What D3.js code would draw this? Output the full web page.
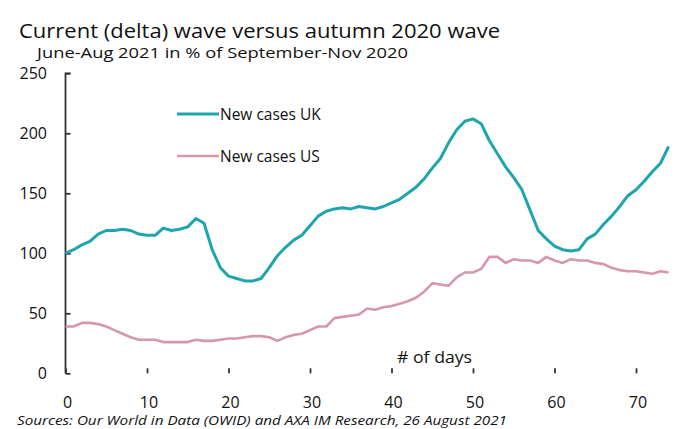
<!DOCTYPE html>
<html><head><meta charset="utf-8">
<script src="https://cdn.jsdelivr.net/npm/d3@7"></script>
<style>body{margin:0;background:#fff}svg{display:block}</style>
</head><body>
<script>
const days = d3.range(0, 75);
const ukCases = [100,103,107,110,116,119,119,120,119,116,115,115,121,119,120,122,129,125,103,88,
  81,79,77,77,79,88,98,105,111,115,123,131,135,137,138,137,139,138,137,139,
  142,145,150,155,162,171,179,192,203,210,212,208,194,183,172,163,153,136,119,112,
  106,103,102,103,112,116,124,131,139,148,153,160,168,175,189];
const usCases = [39,39,42,42,41,39,36,33,30,28,28,28,26,26,26,26,28,27,27,28,
  29,29,30,31,31,30,27,30,32,33,36,39,39,46,47,48,49,54,53,55,
  56,58,60,63,68,75,74,73,80,84,84,87,97,97,92,95,94,94,92,97,
  94,92,95,94,94,92,91,88,86,85,85,84,83,85,84];
const yTicks = [0,50,100,150,200,250];
const xTicks = [0,10,20,30,40,50,60,70];
const seriesNames = ["New cases UK","New cases US"];
const colors = ["#1ea5ae","#d697ab"];

const W = 675, H = 429;
const svg = d3.select("body").append("svg").attr("width", W).attr("height", H);
const font = "'Open Sans', 'Liberation Sans', sans-serif";

const x = d3.scaleLinear().domain([0, 74.6]).range([65.5, 673.5]);
const y = d3.scaleLinear().domain([0, 250]).range([373.3, 73.3]);

svg.append("text").attr("x", 19).attr("y", 38).attr("font-family", font).attr("font-size", 20)
  .attr("fill", "#111").attr("textLength", 481).attr("lengthAdjust", "spacingAndGlyphs")
  .text("Current (delta) wave versus autumn 2020 wave");
svg.append("text").attr("x", 37).attr("y", 58).attr("font-family", font).attr("font-size", 14.5)
  .attr("fill", "#111").attr("textLength", 371).attr("lengthAdjust", "spacingAndGlyphs")
  .text("June-Aug  2021 in % of September-Nov  2020");

// axes
const yAxis = d3.axisRight(y).tickValues(yTicks).tickSize(5).tickFormat("");
const gy = svg.append("g").attr("transform", `translate(${x(0)},0)`).call(yAxis);
const xAxis = d3.axisTop(x).tickValues(xTicks).tickSize(5).tickFormat("");
const gx = svg.append("g").attr("transform", `translate(0,${y(0)})`).call(xAxis);
[gx, gy].forEach(g => {
  g.select(".domain").attr("stroke", "#333").attr("stroke-width", 1.8);
  g.selectAll(".tick line").attr("stroke", "#333").attr("stroke-width", 1.8);
});
gy.select(".domain").attr("d", `M5,${y(250)}H0V${y(0)}`);
gx.select(".domain").attr("d", `M${x(0)},${y(0)}H${x(74.6)}`);

svg.append("g").selectAll("text").data(yTicks).join("text")
  .attr("x", 47).attr("y", d => y(d) + 6).attr("text-anchor", "end")
  .attr("font-family", font).attr("font-size", 16).attr("fill", "#111").text(d => d);
svg.append("g").selectAll("text").data(xTicks).join("text")
  .attr("x", d => x(d) + 2).attr("y", 408).attr("text-anchor", "middle")
  .attr("font-family", font).attr("font-size", 16).attr("fill", "#111").text(d => d);

svg.append("text").attr("x", 397).attr("y", 363).attr("font-family", font).attr("font-size", 16)
  .attr("fill", "#111").attr("textLength", 75).attr("lengthAdjust", "spacingAndGlyphs").text("# of days");

// lines
const line = d3.line().x((d, i) => x(days[i])).y(d => y(d));
[ukCases, usCases].forEach((s, i) => {
  svg.append("path").datum(s).attr("d", line).attr("fill", "none")
    .attr("stroke", colors[i]).attr("stroke-width", i === 0 ? 3 : 2.6)
    .attr("stroke-linejoin", "round");
});

// legend
seriesNames.forEach((n, i) => {
  const ly = 114 + i * 42;
  svg.append("line").attr("x1", 177).attr("x2", 219).attr("y1", ly).attr("y2", ly)
    .attr("stroke", colors[i]).attr("stroke-width", i === 0 ? 3.2 : 2.6);
  svg.append("text").attr("x", 220).attr("y", ly + 6).attr("font-family", font)
    .attr("font-size", 15.5).attr("fill", "#111").text(n);
});

svg.append("text").attr("x", 17).attr("y", 425).attr("font-family", font).attr("font-size", 13)
  .attr("font-style", "italic").attr("fill", "#111").attr("textLength", 490)
  .attr("lengthAdjust", "spacingAndGlyphs")
  .text("Sources: Our World in Data (OWID) and AXA IM Research, 26 August 2021");
</script>
</body></html>
